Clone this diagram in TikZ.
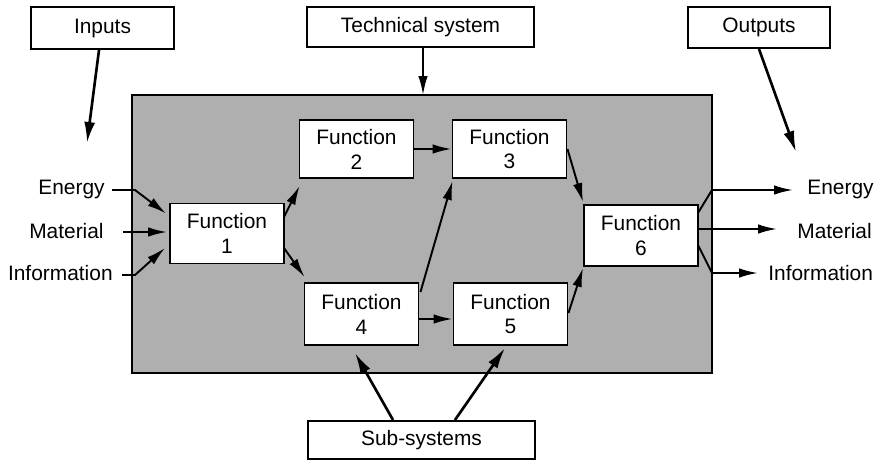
\documentclass[tikz,border=0pt]{standalone}
\usepackage{fontspec}
\setmainfont{Liberation Sans}
\usetikzlibrary{arrows.meta}
\definecolor{sysgray}{RGB}{175,175,175}
\tikzset{
  fbox/.style={draw, line width=1.1pt, fill=white, align=center, minimum width=2.28cm, minimum height=1.2cm, inner sep=0pt},
  lbox/.style={draw, line width=1.2pt, fill=white, minimum height=0.84cm, inner sep=0pt},
  flow/.style={line width=1.1pt, -{Latex[length=0.38cm,width=0.19cm]}},
  bigflow/.style={line width=1.5pt, -{Latex[length=0.42cm,width=0.22cm]}},
  lbl/.style={inner sep=0pt}
}
\begin{document}
\begin{tikzpicture}[x=0.02cm,y=-0.02cm,font=\fontsize{11.9}{14.2}\selectfont]
        \useasboundingbox (0,0) rectangle (876,460);
        % the technical system
        \draw[line width=1pt, fill=sysgray] (132,95) rectangle (712,373);
        \coordinate (systop) at (423,95);

        \node[lbox, minimum width=2.86cm] (inputs) at (102.5,28) {Inputs};
        \node[lbox, minimum width=4.54cm, minimum height=0.8cm] (techsys) at (420.5,27) {Technical system};
        \node[lbox, minimum width=2.84cm, minimum height=0.82cm] (outputs) at (759,27.5) {Outputs};
        \node[lbox, minimum width=4.54cm, minimum height=0.76cm] (subsys) at (421.5,440) {Sub-systems};

        \node[fbox] (f1) at (227,233.5) {Function\\1};
        \node[fbox, minimum height=1.16cm] (f2) at (356.5,149) {Function\\2};
        \node[fbox, minimum height=1.16cm] (f3) at (509.5,149) {Function\\3};
        \node[fbox, minimum height=1.24cm] (f4) at (361.5,314) {Function\\4};
        \node[fbox, minimum height=1.24cm] (f5) at (510.5,314) {Function\\5};
        \node[fbox, minimum height=1.22cm] (f6) at (641,235.5) {Function\\6};

        % inputs side
        \node[lbl, anchor=east] (ein) at (105,189) {Energy};
        \node[lbl, anchor=east] (min) at (104,231) {Material};
        \node[lbl, anchor=east] (iin) at (113,273) {Information};
        \coordinate (inend) at (87,143);
        \draw[bigflow] ([shift={(-3.5,0)}]inputs.south) -- (inend);
        \draw[flow] ([shift={(7,1)}]ein.east) -- (135,190) -- ([shift={(-3,11)}]f1.north west);
        \draw[flow] ([shift={(19,1)}]min.east) -- ([shift={(-2,-1.5)}]f1.west);
        \draw[flow] ([shift={(9,2)}]iin.east) -- (135,275) -- ([shift={(-4,-16.5)}]f1.south west);

        % outputs side
        \node[lbl, anchor=west] (eout) at (807,189) {Energy};
        \node[lbl, anchor=west] (mout) at (797,231) {Material};
        \node[lbl, anchor=west] (iout) at (768,273) {Information};
        \coordinate (outend) at (796,152);
        \draw[bigflow] (outputs.south) -- (outend);
        \draw[flow] ([shift={(-1,-22.5)}]f6.east) -- (712,190) -- ([shift={(-14,1)}]eout.west);
        \draw[flow] ([shift={(-1,-6.5)}]f6.east) -- ([shift={(-20,-2)}]mout.west);
        \draw[flow] ([shift={(-1,9.5)}]f6.east) -- (712,273) -- ([shift={(-10,0)}]iout.west);

        % top
        \draw[flow] (techsys.south -| systop) -- (systop);

        % between functions
        \draw[flow] ([shift={(-1,14.5)}]f1.north east) -- ([shift={(1,7)}]f2.south west);
        \draw[flow] ([shift={(-1,-16.5)}]f1.south east) -- ([shift={(1,-5)}]f4.north west);
        \draw[flow] (f2.east) -- (f3.west);
        \draw[flow] ([shift={(1,10)}]f4.north east) -- ([shift={(1,2)}]f3.south west);
        \draw[flow] (f3.east) -- ([shift={(0,-2)}]f6.north west);
        \draw[flow] ([shift={(0,5)}]f4.east) -- ([shift={(0,5)}]f5.west);
        \draw[flow] ([shift={(0,-1)}]f5.east) -- ([shift={(0,1)}]f6.south west);

        % sub-systems
        \draw[bigflow] ([shift={(-28.5,0)}]subsys.north) -- ([shift={(-6.5,7)}]f4.south);
        \draw[bigflow] ([shift={(33.5,0)}]subsys.north) -- ([shift={(-5.5,2)}]f5.south);
\end{tikzpicture}
\end{document}
